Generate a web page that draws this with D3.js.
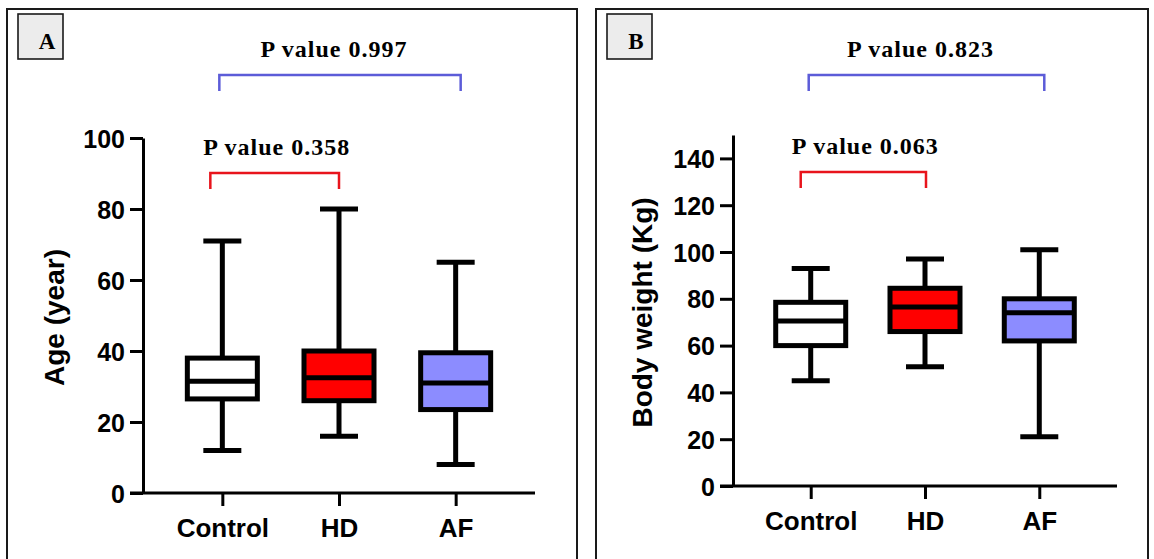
<!DOCTYPE html>
<html>
<head>
<meta charset="utf-8">
<script src="https://cdn.jsdelivr.net/npm/d3@7"></script>
<style>
  html, body { margin: 0; padding: 0; background: #fff; }
  svg { display: block; }
</style>
</head>
<body>
<svg id="chart" width="1154" height="559"></svg>
<script>
// ---------- DATA ----------
const categories = ["Control", "HD", "AF"];
const boxFills = ["#ffffff", "#ff0000", "#8c8cff"];

// Panel A: Age (year)
const ageWhiskerLow  = [12, 16, 8];
const ageQ1          = [26.5, 26, 23.5];
const ageMedian      = [31.5, 32.5, 31];
const ageQ3          = [38, 40, 39.5];
const ageWhiskerHigh = [71, 80, 65];
const ageTicks       = [0, 20, 40, 60, 80, 100];
const agePValues     = ["0.358", "0.997"]; // Control vs HD, Control vs AF

// Panel B: Body weight (Kg)
const weightWhiskerLow  = [45, 51, 21];
const weightQ1          = [60, 66, 62];
const weightMedian      = [70.5, 76.5, 74];
const weightQ3          = [78.5, 84.5, 80];
const weightWhiskerHigh = [93, 97, 101];
const weightTicks       = [0, 20, 40, 60, 80, 100, 120, 140];
const weightPValues     = ["0.063", "0.823"];

// ---------- DRAW ----------
const svg = d3.select("#chart");

function drawPanel(cfg) {
  const g = svg.append("g");

  // panel frame
  g.append("rect")
    .attr("x", cfg.frame[0]).attr("y", cfg.frame[1])
    .attr("width", cfg.frame[2]).attr("height", cfg.frame[3])
    .attr("fill", "#fff").attr("stroke", "#1a1a1a").attr("stroke-width", 2);

  // panel label box
  g.append("rect")
    .attr("x", cfg.frame[0] + 11).attr("y", 14)
    .attr("width", 45).attr("height", 45)
    .attr("fill", "#ececec").attr("stroke", "#1a1a1a").attr("stroke-width", 1.6);
  g.append("text")
    .attr("x", cfg.frame[0] + 11 + 29).attr("y", 49)
    .attr("text-anchor", "middle")
    .attr("font-family", "'Liberation Serif', 'Times New Roman', serif")
    .attr("font-weight", "bold").attr("font-size", 23)
    .text(cfg.label);

  const y = d3.scaleLinear().domain(cfg.yDomain).range([cfg.y0, cfg.yTop]);
  const x = d3.scalePoint().domain(categories).range([cfg.x0, cfg.xEnd]).padding(0.68);

  // y axis
  const yAxis = d3.axisLeft(y).tickValues(cfg.ticks).tickSize(13).tickSizeOuter(0).tickPadding(5);
  const ya = g.append("g").attr("transform", `translate(${cfg.x0},0)`).call(yAxis);
  ya.select(".domain").attr("stroke", "#000").attr("stroke-width", 3);
  ya.selectAll(".tick line").attr("stroke", "#000").attr("stroke-width", 3);
  ya.selectAll(".tick text")
    .attr("font-family", "'Liberation Sans', Arial, sans-serif")
    .attr("font-weight", "bold").attr("font-size", 25).attr("fill", "#000")
    .attr("dy", "0.36em");

  // x axis
  const xAxis = d3.axisBottom(x).tickSize(13).tickSizeOuter(0).tickPadding(13);
  const xa = g.append("g").attr("transform", `translate(0,${cfg.y0})`).call(xAxis);
  xa.select(".domain").remove();
  xa.append("line")
    .attr("x1", cfg.x0 - 13).attr("x2", cfg.xEnd)
    .attr("y1", 0).attr("y2", 0)
    .attr("stroke", "#000").attr("stroke-width", 3);
  xa.selectAll(".tick line").attr("stroke", "#000").attr("stroke-width", 3);
  xa.selectAll(".tick text")
    .attr("font-family", "'Liberation Sans', Arial, sans-serif")
    .attr("font-weight", "bold").attr("font-size", 26).attr("fill", "#000");

  // y axis title
  g.append("text")
    .attr("transform", `translate(${cfg.titleX},${(cfg.y0 + cfg.yTop) / 2 + 2}) rotate(-90)`)
    .attr("text-anchor", "middle")
    .attr("font-family", "'Liberation Sans', Arial, sans-serif")
    .attr("font-weight", "bold").attr("font-size", 28)
    .text(cfg.title);

  // boxes
  const rows = categories.map((c, i) => ({
    c, fill: boxFills[i],
    lo: cfg.lo[i], q1: cfg.q1[i], med: cfg.med[i], q3: cfg.q3[i], hi: cfg.hi[i]
  }));
  const bw = 70, cap = 38, sw = 5;
  const bg = g.selectAll(".box").data(rows).join("g").attr("class", "box");
  bg.append("line")
    .attr("x1", d => x(d.c)).attr("x2", d => x(d.c))
    .attr("y1", d => y(d.lo)).attr("y2", d => y(d.hi))
    .attr("stroke", "#000").attr("stroke-width", sw);
  bg.append("line")
    .attr("x1", d => x(d.c) - cap / 2).attr("x2", d => x(d.c) + cap / 2)
    .attr("y1", d => y(d.lo)).attr("y2", d => y(d.lo))
    .attr("stroke", "#000").attr("stroke-width", sw);
  bg.append("line")
    .attr("x1", d => x(d.c) - cap / 2).attr("x2", d => x(d.c) + cap / 2)
    .attr("y1", d => y(d.hi)).attr("y2", d => y(d.hi))
    .attr("stroke", "#000").attr("stroke-width", sw);
  bg.append("rect")
    .attr("x", d => x(d.c) - bw / 2).attr("width", bw)
    .attr("y", d => y(d.q3)).attr("height", d => y(d.q1) - y(d.q3))
    .attr("fill", d => d.fill).attr("stroke", "#000").attr("stroke-width", sw);
  bg.append("line")
    .attr("x1", d => x(d.c) - bw / 2).attr("x2", d => x(d.c) + bw / 2)
    .attr("y1", d => y(d.med)).attr("y2", d => y(d.med))
    .attr("stroke", "#000").attr("stroke-width", sw);

  // significance brackets
  function bracket(a, b, offA, offB, yTop, legLen, color, pText, textDx) {
    const xa1 = x(a) + offA, xb1 = x(b) + offB;
    g.append("path")
      .attr("d", `M${xa1},${yTop + legLen}V${yTop}H${xb1}V${yTop + legLen}`)
      .attr("fill", "none").attr("stroke", color).attr("stroke-width", 2.5);
    g.append("text")
      .attr("x", (xa1 + xb1) / 2 + textDx).attr("y", yTop - 18)
      .attr("text-anchor", "middle")
      .attr("font-family", "'Liberation Serif', 'Times New Roman', serif")
      .attr("font-weight", "bold").attr("font-size", 24)
      .attr("letter-spacing", 1)
      .text("P value " + pText);
  }
  bracket("Control", "HD", cfg.redOff[0], cfg.redOff[1], cfg.redY, 16, "#e8141c", cfg.p[0], 2);
  bracket("Control", "AF", cfg.blueOff[0], cfg.blueOff[1], 75, 16, "#5c5cd8", cfg.p[1], -6);
}

drawPanel({
  label: "A", frame: [7, 9, 570, 560],
  x0: 143, xEnd: 535, y0: 493, yTop: 138, yDomain: [0, 100],
  ticks: ageTicks, title: "Age (year)", titleX: 64,
  lo: ageWhiskerLow, q1: ageQ1, med: ageMedian, q3: ageQ3, hi: ageWhiskerHigh,
  p: agePValues, redY: 173, redOff: [-12, 0], blueOff: [-3, 5]
});

drawPanel({
  label: "B", frame: [596, 9, 552, 560],
  x0: 733, xEnd: 1117, y0: 486, yTop: 135, yDomain: [0, 150],
  ticks: weightTicks, title: "Body weight (Kg)", titleX: 652,
  lo: weightWhiskerLow, q1: weightQ1, med: weightMedian, q3: weightQ3, hi: weightWhiskerHigh,
  p: weightPValues, redY: 172, redOff: [-10, 1], blueOff: [-2, 5]
});
</script>
</body>
</html>
